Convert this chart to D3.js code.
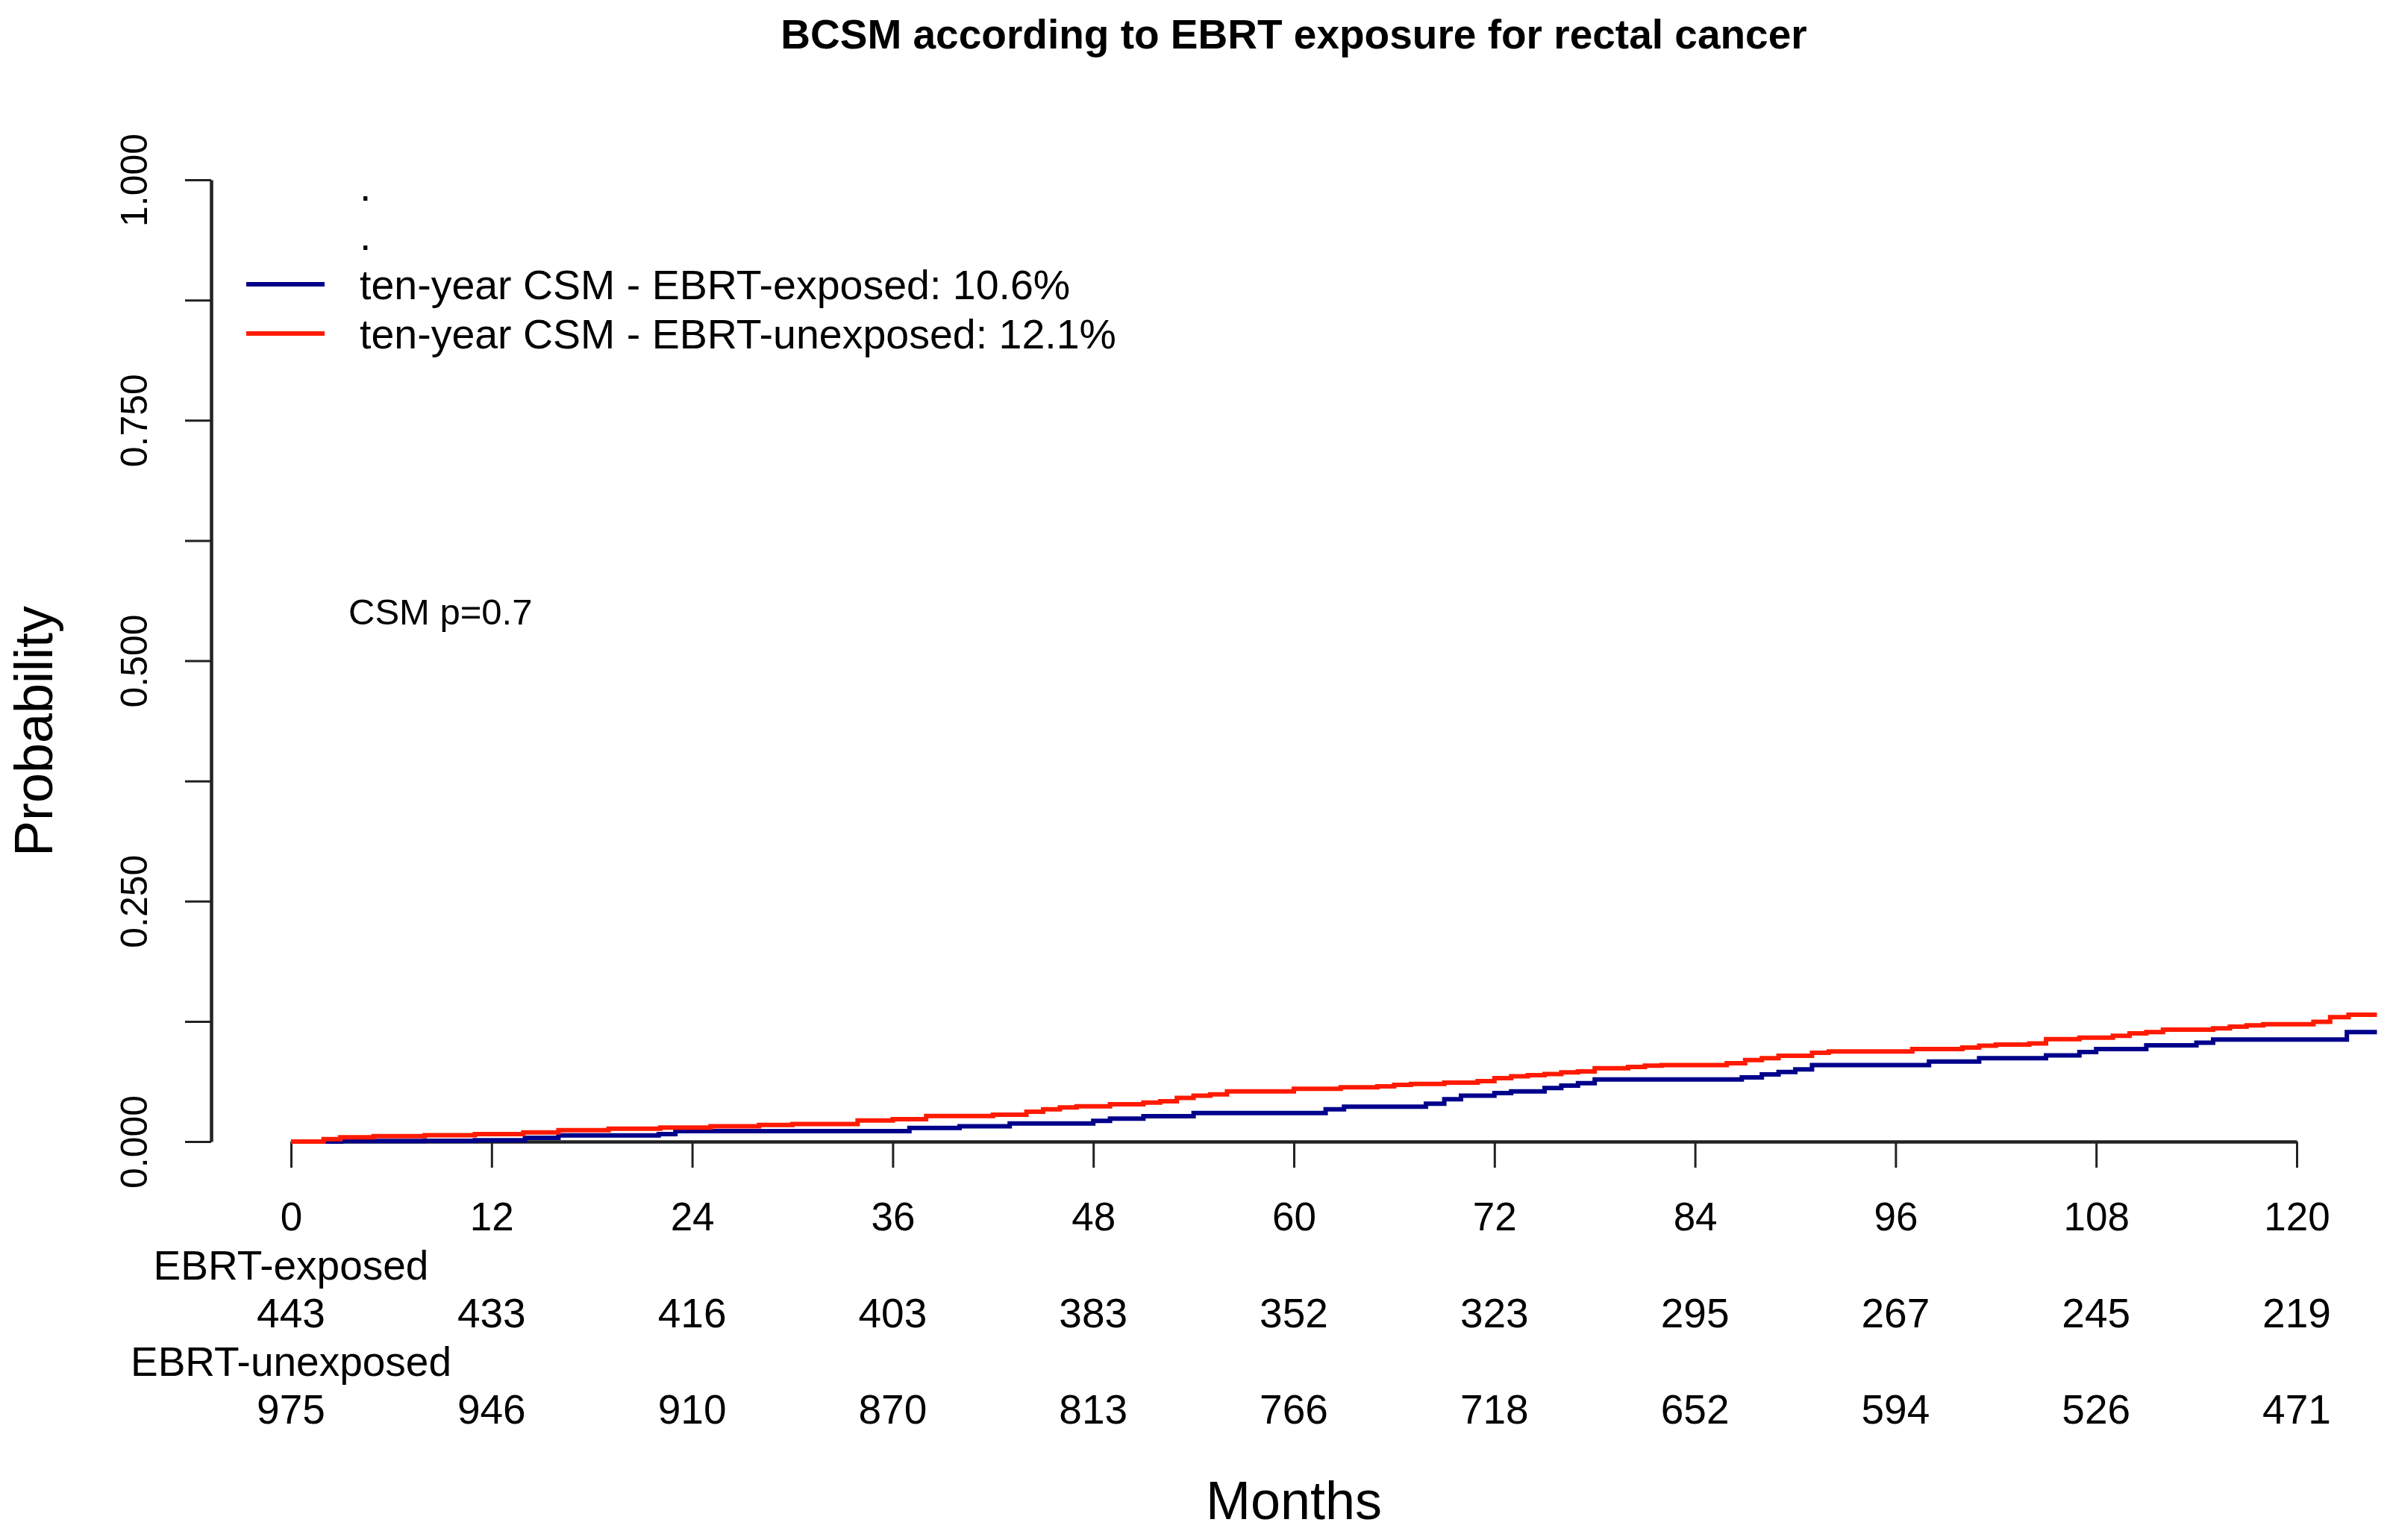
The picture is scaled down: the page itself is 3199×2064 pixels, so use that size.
<!DOCTYPE html>
<html>
<head>
<meta charset="utf-8">
<script src="https://cdn.jsdelivr.net/npm/d3@7"></script>
<style>
  html, body { margin: 0; padding: 0; background: #ffffff; }
  svg { display: block; font-family: "Liberation Sans", Arial, Helvetica, sans-serif; }
</style>
</head>
<body>
<svg id="chart" width="3199" height="2064"></svg>
<script>
// ---------------- data ----------------
const xTicks = [0, 12, 24, 36, 48, 60, 72, 84, 96, 108, 120];
const yTicks = [0, 0.125, 0.25, 0.375, 0.5, 0.625, 0.75, 0.875, 1];
const yLabeled = [0, 0.25, 0.5, 0.75, 1];

const groups = ["EBRT-exposed", "EBRT-unexposed"];
const legendLabels = [
  "ten-year CSM - EBRT-exposed: 10.6%",
  "ten-year CSM - EBRT-unexposed: 12.1%"
];
const groupColors = ["#00008b", "#ff1a00"];

const exposedRisk = [443, 433, 416, 403, 383, 352, 323, 295, 267, 245, 219];
const unexposedRisk = [975, 946, 910, 870, 813, 766, 718, 652, 594, 526, 471];

const exposedTime = [0, 3, 8, 11, 14, 16, 22, 23, 37, 40, 43, 48, 49, 51, 54, 61.9, 63, 67.9, 69, 70,
  72, 73, 75, 76, 77, 78, 86.8, 88, 89, 90, 91, 98, 101, 105, 107, 108, 111, 114, 115, 123, 124.8];
const exposedCSM = [0, 0.0005, 0.0008, 0.0013, 0.0039, 0.0064, 0.0078, 0.0109, 0.0142, 0.016,
  0.0189, 0.0215, 0.0238, 0.0264, 0.0297, 0.0336, 0.0362, 0.0393, 0.044, 0.0478,
  0.0504, 0.0522, 0.0556, 0.0582, 0.0608, 0.0646, 0.0667, 0.0698, 0.0724, 0.075,
  0.0796, 0.0833, 0.0866, 0.0897, 0.0931, 0.0962, 0.1001, 0.1027, 0.106, 0.1138, 0.1138];

const unexposedTime = [0, 1.95, 2.95, 4.94, 8, 11, 13.9, 16, 19, 22.1, 25.1, 28, 30, 33.9, 36, 38, 42, 44, 45, 46,
  47, 49, 51, 52, 53, 54, 55, 56, 60, 62.8, 65, 66, 67, 69, 71, 72, 73, 74, 75, 76,
  77, 78, 80, 81, 82, 85.9, 87, 88, 89, 91, 92, 97, 100, 101, 102, 104, 105, 107, 109, 110,
  111, 112, 115, 116, 117, 118, 121, 122, 123.1, 124.8];
const unexposedCSM = [0, 0.0026, 0.0044, 0.0057, 0.0065, 0.0078, 0.0096, 0.0119, 0.0134, 0.0145,
  0.016, 0.0173, 0.0182, 0.022, 0.0233, 0.0266, 0.028, 0.031, 0.0336, 0.0354,
  0.0367, 0.0388, 0.0406, 0.0419, 0.0453, 0.0478, 0.049, 0.0522, 0.0548, 0.0564,
  0.0574, 0.059, 0.06, 0.0613, 0.0628, 0.066, 0.0678, 0.069, 0.0703, 0.0719,
  0.073, 0.0763, 0.0776, 0.0789, 0.0796, 0.0815, 0.0848, 0.0866, 0.0892, 0.0923,
  0.0936, 0.0962, 0.0977, 0.0996, 0.1009, 0.1021, 0.1065, 0.108, 0.1099, 0.1125,
  0.1138, 0.1164, 0.1177, 0.1195, 0.1208, 0.122, 0.1246, 0.1293, 0.1319, 0.1319];

const titleText = "BCSM according to EBRT exposure for rectal cancer";
const xLabel = "Months";
const yLabel = "Probability";
const pText = "CSM p=0.7";

// ---------------- chart ----------------
const svg = d3.select("#chart");
svg.append("rect").attr("width", 3199).attr("height", 2064).attr("fill", "#fff");

const x = d3.scaleLinear().domain([0, 120]).range([390, 3078]);
const y = d3.scaleLinear().domain([0, 1]).range([1530, 241]);

// title
svg.append("text")
  .attr("x", (x(0) + x(120)) / 2).attr("y", 65)
  .attr("text-anchor", "middle")
  .attr("font-weight", "bold").attr("font-size", 55)
  .attr("fill", "#000")
  .text(titleText);

// x axis
const xAxis = svg.append("g")
  .attr("transform", `translate(0,${y(0)})`)
  .call(d3.axisBottom(x).tickValues(xTicks).tickSize(35).tickSizeOuter(0).tickPadding(46)
    .tickFormat(d3.format("d")));
xAxis.select(".domain").attr("stroke", "#222").attr("stroke-width", 4.5);
xAxis.selectAll(".tick line").attr("stroke", "#222").attr("stroke-width", 3);
xAxis.selectAll(".tick text").attr("font-size", 53).attr("fill", "#000")
  .attr("font-family", "'Liberation Sans', Arial, sans-serif");

// y axis
const yAxis = svg.append("g")
  .attr("transform", `translate(283,0)`)
  .call(d3.axisLeft(y).tickValues(yTicks).tickSize(35).tickSizeOuter(0)
    .tickFormat(d => yLabeled.includes(d) ? d3.format(".3f")(d) : ""));
yAxis.select(".domain").attr("stroke", "#222").attr("stroke-width", 4.5);
yAxis.selectAll(".tick line").attr("stroke", "#222").attr("stroke-width", 3);
yAxis.selectAll(".tick text")
  .attr("x", null).attr("dy", null)
  .attr("transform", "translate(-86,0) rotate(-90)")
  .attr("text-anchor", "middle")
  .attr("font-size", 50).attr("fill", "#000")
  .attr("font-family", "'Liberation Sans', Arial, sans-serif");

// axis titles
svg.append("text")
  .attr("transform", `translate(70,980) rotate(-90)`)
  .attr("text-anchor", "middle").attr("font-size", 72).attr("fill", "#000")
  .text(yLabel);
svg.append("text")
  .attr("x", (x(0) + x(120)) / 2).attr("y", 2036)
  .attr("text-anchor", "middle").attr("font-size", 72).attr("fill", "#000")
  .text(xLabel);

// curves
const series = [
  { name: groups[0], color: groupColors[0], pts: exposedTime.map((t, i) => [t, exposedCSM[i]]) },
  { name: groups[1], color: groupColors[1], pts: unexposedTime.map((t, i) => [t, unexposedCSM[i]]) }
];
const line = d3.line().x(d => x(d[0])).y(d => y(d[1])).curve(d3.curveStepAfter);
svg.append("g").selectAll("path").data(series).join("path")
  .attr("d", d => line(d.pts))
  .attr("fill", "none")
  .attr("stroke", d => d.color)
  .attr("stroke-width", 6);

// legend
const legend = svg.append("g");
const legendRows = [".", ".", legendLabels[0], legendLabels[1]];
const legendBase = [269, 335, 401, 467];
legend.selectAll("text").data(legendRows).join("text")
  .attr("x", 482).attr("y", (d, i) => legendBase[i])
  .attr("font-size", 55.5).attr("fill", "#000")
  .text(d => d);
legend.selectAll("line").data(groupColors).join("line")
  .attr("x1", 330).attr("x2", 435)
  .attr("y1", (d, i) => legendBase[i + 2] - 20)
  .attr("y2", (d, i) => legendBase[i + 2] - 20)
  .attr("stroke", d => d)
  .attr("stroke-width", 6);

// p-value
svg.append("text")
  .attr("x", 467).attr("y", 837)
  .attr("font-size", 49).attr("fill", "#000")
  .text(pText);

// risk table
const riskRows = [
  { label: groups[0], labelY: 1715, numY: 1779, values: exposedRisk },
  { label: groups[1], labelY: 1844, numY: 1908, values: unexposedRisk }
];
const risk = svg.append("g").attr("font-size", 55).attr("fill", "#000");
riskRows.forEach(r => {
  risk.append("text").attr("x", x(0)).attr("y", r.labelY)
    .attr("text-anchor", "middle").text(r.label);
  risk.append("g").selectAll("text").data(r.values).join("text")
    .attr("x", (d, i) => x(xTicks[i])).attr("y", r.numY)
    .attr("text-anchor", "middle").text(d => d);
});
</script>
</body>
</html>
